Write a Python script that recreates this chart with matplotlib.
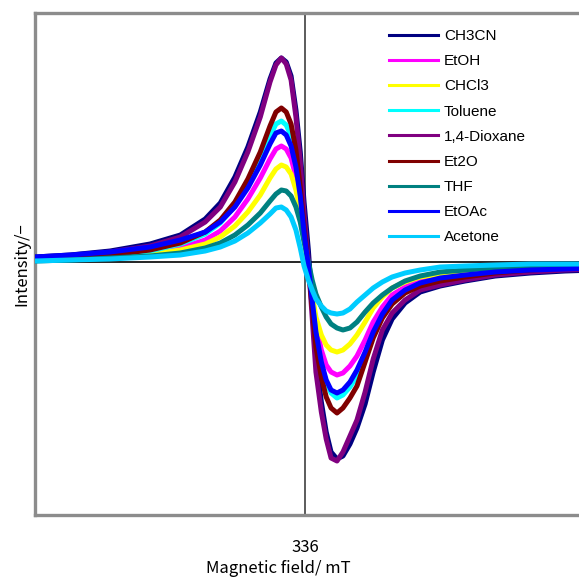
import numpy as np
import matplotlib
matplotlib.use("Agg")
import matplotlib.pyplot as plt

# magnetic field (mT), common sampling for all spectra
field = [331.00, 331.65, 332.39, 333.13, 333.69, 334.15, 334.43, 334.70, 334.94, 335.17,
         335.35, 335.46, 335.56, 335.65, 335.74, 335.83, 335.91, 335.98, 336.06, 336.13,
         336.20, 336.30, 336.39, 336.48, 336.59, 336.70, 336.83, 336.96, 337.11, 337.26,
         337.43, 337.61, 337.85, 338.13, 338.50, 338.96, 339.52, 340.17, 340.81, 341.37]

# first-derivative EPR signal (arb. units)
ch3cn = [5, 7, 11, 18, 27, 43, 59, 85, 115, 150, 183, 199, 204, 200, 186, 152, 110, 60, 12, -42,
         -95, -140, -170, -190, -197, -194, -182, -166, -142, -110, -78, -57, -41, -30, -24, -19, -14, -11, -9, -8]
etoh = [3, 4, 6, 9, 14, 22, 31, 45, 63, 84, 103, 113, 116, 113, 104, 85, 58, 26, -6, -35,
        -62, -88, -103, -110, -113, -111, -104, -94, -78, -60, -45, -33, -25, -19, -15, -11, -8, -6, -5, -4]
chcl3 = [2, 3, 5, 8, 12, 18, 25, 36, 50, 67, 84, 93, 97, 95, 88, 72, 50, 22, -6, -32,
         -55, -73, -83, -88, -90, -88, -82, -73, -60, -46, -35, -26, -20, -15, -12, -9, -7, -5, -4, -3]
toluene = [3, 5, 7, 11, 18, 28, 39, 56, 77, 102, 126, 138, 141, 137, 126, 102, 70, 33, -3, -38,
           -72, -102, -120, -131, -136, -133, -125, -114, -94, -72, -54, -40, -30, -23, -18, -14, -10, -8, -6, -5]
dioxane = [4, 6, 10, 16, 25, 40, 55, 80, 110, 145, 180, 197, 204, 198, 182, 145, 100, 48, 0, -55,
           -110, -150, -177, -196, -199, -190, -174, -158, -130, -97, -68, -51, -38, -28, -23, -18, -13, -10, -8, -7]
et2o = [2, 4, 7, 12, 19, 30, 42, 60, 83, 110, 136, 150, 154, 150, 138, 112, 75, 35, -5, -45,
        -85, -115, -135, -146, -151, -146, -136, -124, -100, -76, -56, -42, -31, -24, -19, -15, -11, -8, -6, -5]
thf = [1, 2, 4, 6, 9, 14, 19, 27, 37, 49, 61, 68, 72, 71, 66, 55, 40, 20, 0, -18,
       -32, -45, -55, -62, -66, -68, -66, -60, -50, -41, -33, -26, -19, -14, -10, -8, -6, -4, -3, -3]
etoac = [5, 7, 10, 15, 22, 30, 40, 55, 74, 97, 118, 129, 131, 127, 116, 95, 66, 30, -5, -38,
         -70, -100, -118, -128, -131, -128, -120, -108, -90, -70, -52, -38, -28, -21, -16, -13, -10, -8, -7, -6]
acetone = [1, 2, 3, 5, 7, 11, 15, 21, 29, 39, 48, 54, 55, 52, 45, 32, 14, -4, -18, -28,
           -37, -44, -49, -51, -52, -51, -47, -40, -33, -26, -20, -15, -11, -8, -5, -4, -3, -2, -2, -2]

labels = ["CH3CN", "EtOH", "CHCl3", "Toluene", "1,4-Dioxane", "Et2O", "THF", "EtOAc", "Acetone"]
series = [ch3cn, etoh, chcl3, toluene, dioxane, et2o, thf, etoac, acetone]
colors = ["#000080", "#ff00ff", "#ffff00", "#00ffff", "#800080", "#800000", "#008080", "#0000ff", "#00ccff"]

jp = ["Noto Sans CJK JP", "DejaVu Sans"]

fig = plt.figure(figsize=(5.79, 5.78), dpi=100)
ax = fig.add_axes([35 / 579, 1 - 515 / 578, 557 / 579, 502 / 578])

for y, lab, c in zip(series, labels, colors):
    ax.plot(field, y, color=c, lw=3.6, label=lab, zorder=3)

# zero line and 336 mT marker
ax.axhline(0, color="black", lw=1.2, zorder=1)
ax.axvline(336, color="#404040", lw=1.2, zorder=1)

ax.set_xlim(331.0, 341.31)
ax.set_ylim(-253, 249)

for s in ax.spines.values():
    s.set_color("#8c8c8c")
    s.set_linewidth(2.4)

ax.set_xticks([336])
ax.set_xticklabels(["336"], fontsize=12, family=jp)
ax.tick_params(axis="x", length=0, pad=17)
ax.set_yticks([])

ax.set_xlabel("Magnetic field/ mT", fontsize=12, family=jp)
ax.xaxis.set_label_coords((278 - 35) / 557, -45 / 502)
ax.set_ylabel("Intensity/\u2212", fontsize=12, family=jp)
ax.yaxis.set_label_coords(-5 / 557, 0.5)

leg = ax.legend(loc="upper left", bbox_to_anchor=((383 - 35) / 557, 1 - 10 / 502), frameon=False,
                prop={"family": "Liberation Sans", "size": 11}, handlelength=3.2,
                handletextpad=0.4, labelspacing=0.73, borderaxespad=0)
for h in leg.get_lines():
    h.set_linewidth(2.2)

fig.savefig("out.png", dpi=100)
